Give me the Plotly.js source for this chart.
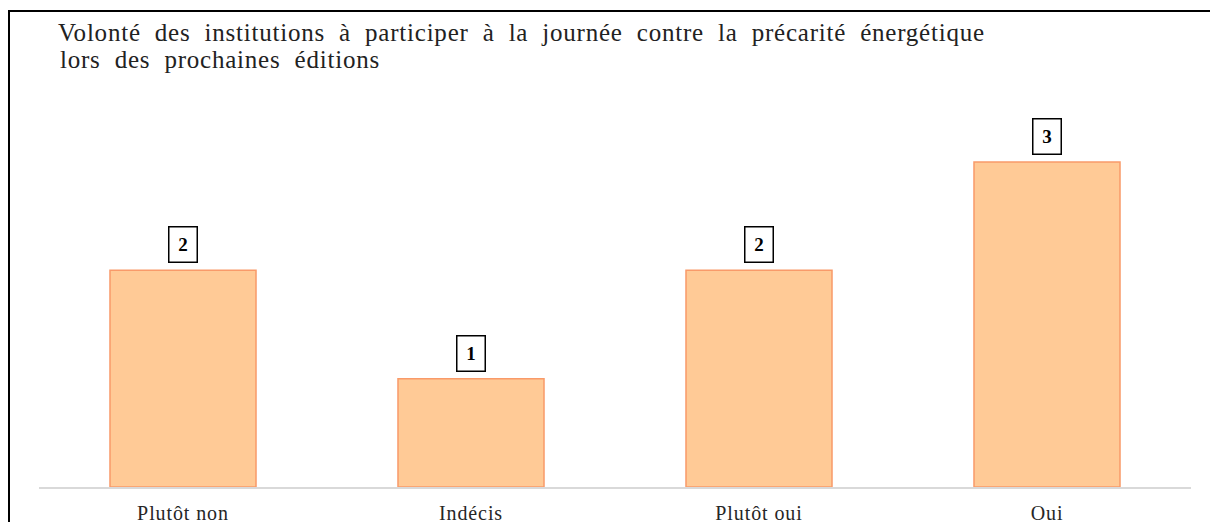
<!DOCTYPE html>
<html>
<head>
<meta charset="utf-8">
<script src="https://cdn.plot.ly/plotly-3.0.1.min.js"></script>
<style>
  html, body { margin: 0; padding: 0; background: #fff; overflow: hidden; }
  #chart { width: 1210px; height: 522px; position: absolute; left: 0; top: 0; }
  #frame { position: absolute; left: 8px; top: 10px; width: 1400px; height: 700px;
           border-left: 2px solid #000; border-top: 2px solid #000; pointer-events: none; }
  #chart .gtitle, #chart .wide-text text { letter-spacing: 0.78px; }
  #chart .xtick text { letter-spacing: 0.9px; }
</style>
</head>
<body>
<div id="chart"></div>
<div id="frame"></div>
<script>
const categories = ["Plutôt non", "Indécis", "Plutôt oui", "Oui"];
const values = [2, 1, 2, 3];
const titleLines = [
  "Volonté des institutions à participer à la journée contre la précarité énergétique",
  "lors des prochaines éditions"
];

const serif = "Liberation Serif, Times New Roman, serif";
const titleColor = "#222222";
const titleSize = 25;

// wider word spacing like the reference
const spaced = s => s.split(" ").join("&nbsp; ");

const trace = {
  type: "bar",
  x: categories,
  y: values,
  width: 0.507,
  marker: { color: "#ffca96", line: { color: "#f99a69", width: 1.5 } },
  hoverinfo: "x+y"
};

const plotTop = 97, plotBottom = 522 - 35, plotH = plotBottom - plotTop;

const annotations = categories.map((c, i) => ({
  x: c, y: values[i], xref: "x", yref: "y",
  text: "<b>" + values[i] + "</b>",
  showarrow: false, yanchor: "bottom", yshift: 7,
  font: { family: serif, size: 19, color: "#000" },
  bordercolor: "#000", borderwidth: 1.5, borderpad: 1.5,
  width: 24, height: 31, bgcolor: "#fff"
}));

// second title line
annotations.push({
  text: spaced(titleLines[1]),
  xref: "paper", yref: "paper",
  x: (58 - 39) / (1210 - 39 - 19), xanchor: "left",
  y: (plotBottom - 60) / plotH, yanchor: "middle",
  showarrow: false, align: "left",
  font: { family: serif, size: titleSize, color: titleColor }
});

const layout = {
  width: 1210, height: 522,
  paper_bgcolor: "#fff", plot_bgcolor: "#fff",
  margin: { l: 39, r: 19, t: plotTop, b: 35 },
  showlegend: false,
  font: { family: serif },
  title: {
    text: spaced(titleLines[0]),
    x: 58 / 1210, xref: "container", xanchor: "left",
    y: 1 - 32 / 522, yref: "container", yanchor: "middle",
    font: { family: serif, size: titleSize, color: titleColor }
  },
  xaxis: {
    type: "category",
    showline: true, linecolor: "#d9d9d9", linewidth: 1.5,
    showgrid: false, ticks: "", zeroline: false,
    ticklabelstandoff: 7,
    tickfont: { family: serif, size: 20, color: "#262626" },
    fixedrange: true
  },
  yaxis: {
    range: [0, 3.6], visible: false, showgrid: false, zeroline: false,
    fixedrange: true
  },
  annotations: annotations
};

Plotly.newPlot("chart", [trace], layout, { displayModeBar: false, staticPlot: true }).then(gd => {
  // mark the second title line so it gets the same letter spacing as the title
  const anns = gd.querySelectorAll(".annotation");
  const last = anns[anns.length - 1];
  if (last) last.classList.add("wide-text");
});
</script>
</body>
</html>
